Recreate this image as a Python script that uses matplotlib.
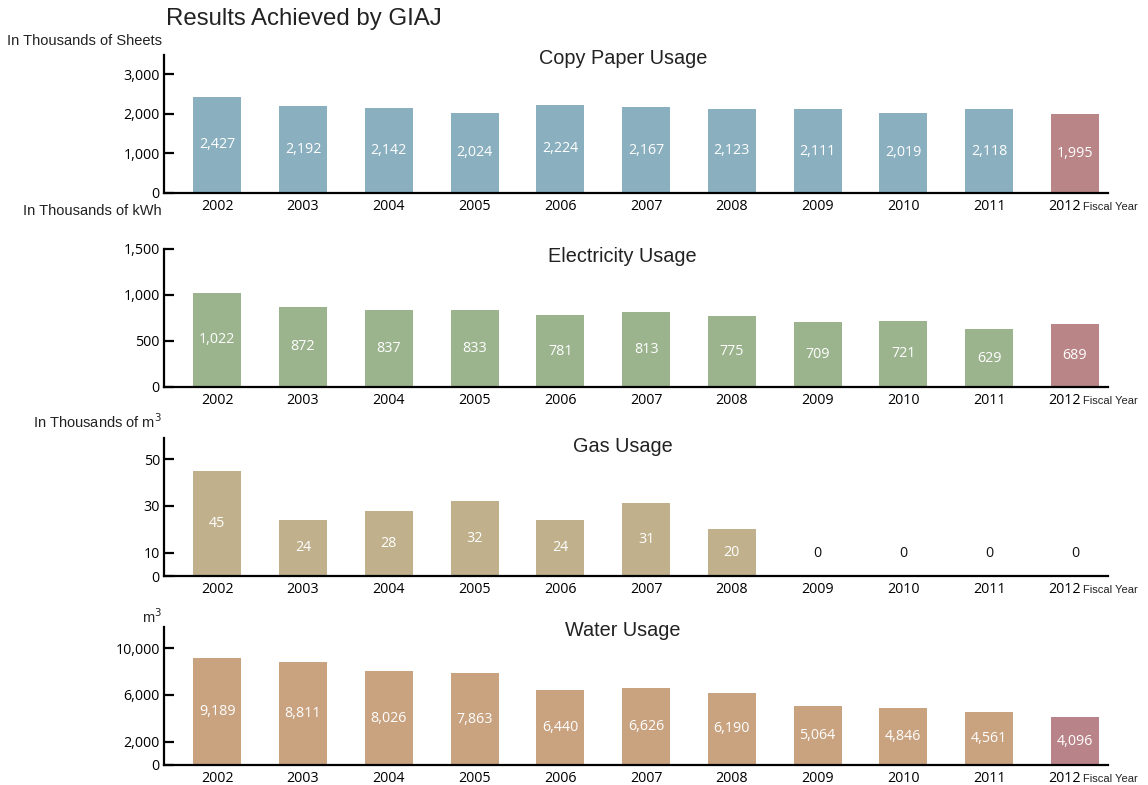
import matplotlib.pyplot as plt
import matplotlib.transforms as mtransforms

years = ["2002", "2003", "2004", "2005", "2006", "2007", "2008", "2009", "2010", "2011", "2012"]

copy_paper = [2427, 2192, 2142, 2024, 2224, 2167, 2123, 2111, 2019, 2118, 1995]
electricity = [1022, 872, 837, 833, 781, 813, 775, 709, 721, 629, 689]
gas = [45, 24, 28, 32, 24, 31, 20, 0, 0, 0, 0]
water = [9189, 8811, 8026, 7863, 6440, 6626, 6190, 5064, 4846, 4561, 4096]

num_font = "Open Sans"
txt_font = "Liberation Sans"

W, H = 1148, 785
fig = plt.figure(figsize=(W / 100, H / 100), dpi=100)

fig.text(166 / W, 1 - 19 / H, "Results Achieved by GIAJ", fontsize=17.3,
         family=txt_font, color="#222222", va="center", ha="left")

panels = [
    # (values, color, title, unit label, bottom px, ylim top, ticks, unit label y)
    (copy_paper, "#8aafbf", "Copy Paper Usage", "In Thousands of Sheets", 193, 3480,
     [0, 1000, 2000, 3000], 41),
    (electricity, "#9bb48e", "Electricity Usage", "In Thousands of kWh", 387, 1500,
     [0, 500, 1000, 1500], 211),
    (gas, "#c0b18c", "Gas Usage", "In Thousands of m$^3$", 576, 59,
     [0, 10, 30, 50], 422),
    (water, "#c9a27f", "Water Usage", "m$^3$", 765, 11800,
     [0, 2000, 6000, 10000], 617),
]
last_color = {"Copy Paper Usage": "#b98587", "Electricity Usage": "#b98587",
              "Gas Usage": "#b98587", "Water Usage": "#b98489"}
title_y = {"Copy Paper Usage": 59, "Electricity Usage": 257, "Gas Usage": 447, "Water Usage": 631}

left, right = 164, 1108
for vals, color, title, unit, bottom, ytop, ticks, unit_y in panels:
    ax = fig.add_axes([left / W, 1 - bottom / H, (right - left) / W, 138 / H])
    x = list(range(len(years)))
    colors = [color] * (len(years) - 1) + [last_color[title]]
    ax.bar(x, vals, width=0.56, color=colors)
    ax.set_xlim(-0.62, 10.385)
    ax.set_ylim(0, ytop)
    for s in ["top", "right"]:
        ax.spines[s].set_visible(False)
    for s in ["left", "bottom"]:
        ax.spines[s].set_linewidth(1.6)
    ax.set_xticks(x)
    ax.set_xticklabels(years, family=num_font, fontsize=10.3)
    ax.tick_params(axis="x", length=0, pad=4)
    # last year label sits a bit left to leave room for "Fiscal Year"
    last = ax.get_xticklabels()[-1]
    last.set_transform(last.get_transform() + mtransforms.ScaledTranslation(-10 / 100, 0, fig.dpi_scale_trans))
    ax.set_yticks(ticks)
    ax.set_yticklabels([f"{t:,}" for t in ticks], family=num_font, fontsize=10.3)
    ax.tick_params(axis="y", direction="in", length=7, width=1.6, pad=3)

    for i, v in enumerate(vals):
        if v == 0:
            ax.text(i, ytop * 0.165, "0", ha="center", va="center",
                    family=num_font, fontsize=10.3, color="#111111")
        else:
            ax.text(i, v / 2, f"{v:,}", ha="center", va="center",
                    family=num_font, fontsize=10.3, color="white")

    ty = 1 - (title_y[title] - (bottom - 138)) / 138
    ax.set_title(title, family=txt_font, fontsize=14.3, color="#222222", pad=0,
                 x=0.486, y=ty, va="center")
    fig.text(162 / W, 1 - unit_y / H, unit, family=txt_font, fontsize=10.5,
             color="#222222", ha="right", va="center")
    fig.text(1083 / W, 1 - (bottom + 14) / H, "Fiscal Year", family=txt_font,
             fontsize=8, color="#222222", ha="left", va="center")

fig.savefig("out.png", dpi=100)
